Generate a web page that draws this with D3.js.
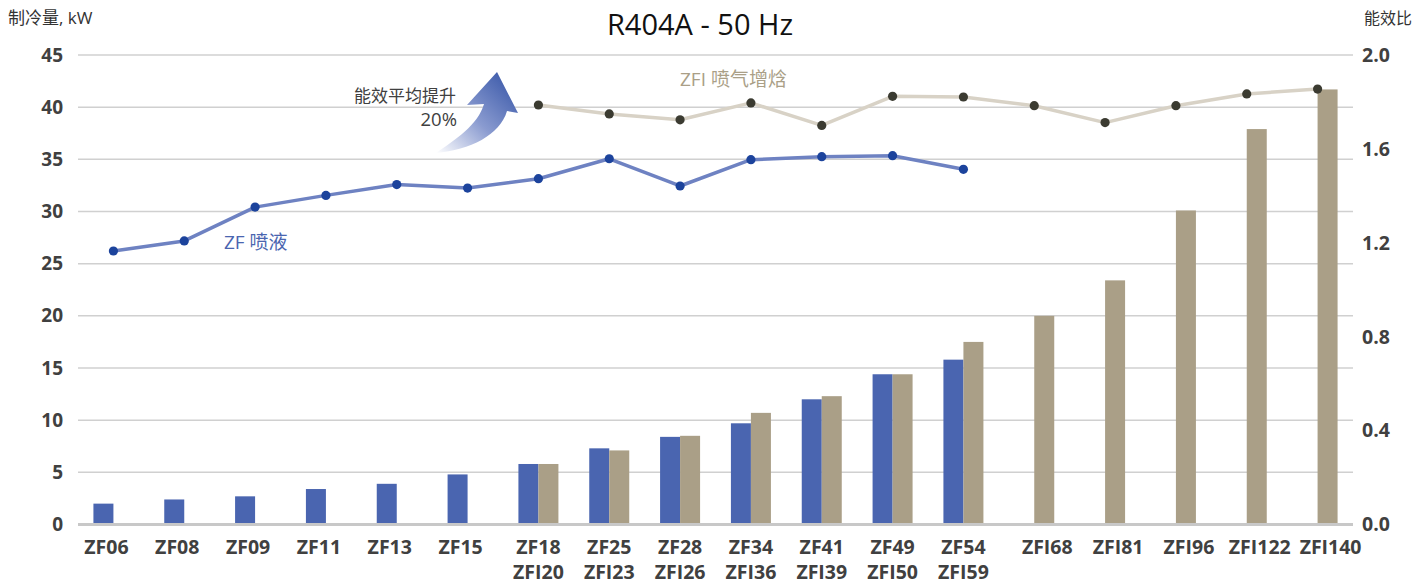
<!DOCTYPE html>
<html><head><meta charset="utf-8">
<script src="https://cdn.jsdelivr.net/npm/d3@7"></script>
<style>
html,body{margin:0;padding:0;background:#fff;}
svg text{font-family:"Open Sans","Noto Sans CJK SC",sans-serif;}
</style></head>
<body><svg id="c" width="1423" height="587"></svg>
<script>
const categories = [["ZF06"],["ZF08"],["ZF09"],["ZF11"],["ZF13"],["ZF15"],["ZF18","ZFI20"],["ZF25","ZFI23"],["ZF28","ZFI26"],["ZF34","ZFI36"],["ZF41","ZFI39"],["ZF49","ZFI50"],["ZF54","ZFI59"],["ZFI68"],["ZFI81"],["ZFI96"],["ZFI122"],["ZFI140"]];
const zfCapacity  = [2.0,2.4,2.7,3.4,3.9,4.8,5.8,7.3,8.4,9.7,12.0,14.4,15.8,null,null,null,null,null];
const zfiCapacity = [null,null,null,null,null,null,5.8,7.1,8.5,10.7,12.3,14.4,17.5,20.0,23.4,30.1,37.9,41.7];
const zfEER  = [1.165,1.208,1.352,1.402,1.448,1.433,1.473,1.558,1.442,1.554,1.567,1.571,1.513,null,null,null,null,null];
const zfiEER = [null,null,null,null,null,null,1.787,1.749,1.724,1.796,1.70,1.824,1.821,1.784,1.712,1.784,1.834,1.855];
const leftTicks = [0,5,10,15,20,25,30,35,40,45];
const rightTicks = [0,0.4,0.8,1.2,1.6,2.0];

const svg = d3.select("#c");
const x0 = 78, x1 = 1353, yTop = 55, yBot = 524.5;
const x = d3.scaleBand().domain(d3.range(categories.length)).range([x0,x1]).padding(0);
const yL = d3.scaleLinear().domain([0,45]).range([yBot,yTop]);
const yR = d3.scaleLinear().domain([0,2]).range([yBot,yTop]);
const cx = i => x(i) + x.bandwidth()/2;
const barW = 20;
// label centre: middle of the bars present in the category
const labelX = i => {
  const a = zfCapacity[i]!=null, b = zfiCapacity[i]!=null;
  if (a && b) return cx(i);
  if (a) return cx(i) - barW/2 + 3;
  return cx(i) + barW/2 + 3;
};

// grid
svg.append("g").selectAll("line").data(leftTicks.filter(d=>d>0)).join("line")
  .attr("x1",x0).attr("x2",x1).attr("y1",d=>yL(d)).attr("y2",d=>yL(d))
  .attr("stroke","#d0d0d0").attr("stroke-width",1.5);

// left tick labels
svg.append("g").selectAll("text").data(leftTicks).join("text")
  .attr("x",63).attr("y",d=>yL(d)).attr("dy","0.35em").attr("text-anchor","end")
  .attr("font-size",19).attr("font-weight","bold").attr("fill","#404040").text(d=>d);
// right tick labels
svg.append("g").selectAll("text").data(rightTicks).join("text")
  .attr("x",1362).attr("y",d=>yR(d)).attr("dy","0.35em").attr("text-anchor","start")
  .attr("font-size",19.5).attr("font-weight","bold").attr("fill","#404040").text(d=>d3.format(".1f")(d));

// bars
svg.append("g").selectAll("rect").data(zfCapacity.map((v,i)=>({v,i})).filter(d=>d.v!=null)).join("rect")
  .attr("x",d=>cx(d.i)-barW).attr("width",barW).attr("y",d=>yL(d.v)).attr("height",d=>yBot-yL(d.v))
  .attr("fill","#4a65b0");
svg.append("g").selectAll("rect").data(zfiCapacity.map((v,i)=>({v,i})).filter(d=>d.v!=null)).join("rect")
  .attr("x",d=>cx(d.i)).attr("width",barW).attr("y",d=>yL(d.v)).attr("height",d=>yBot-yL(d.v))
  .attr("fill","#aa9f87");

// zero axis line
svg.append("line").attr("x1",x0).attr("x2",x1).attr("y1",yBot).attr("y2",yBot)
  .attr("stroke","#c8c8c8").attr("stroke-width",3);

// lines
function drawLine(data, lineColor, dotColor){
  const pts = data.map((v,i)=>({v,i})).filter(d=>d.v!=null);
  svg.append("path").datum(pts)
    .attr("d", d3.line().x(d=>cx(d.i)).y(d=>yR(d.v)))
    .attr("fill","none").attr("stroke",lineColor).attr("stroke-width",3.5).attr("stroke-linejoin","round");
  svg.append("g").selectAll("circle").data(pts).join("circle")
    .attr("cx",d=>cx(d.i)).attr("cy",d=>yR(d.v)).attr("r",4.6).attr("fill",dotColor);
}
drawLine(zfiEER, "#d8d2c6", "#3b3b31");
drawLine(zfEER, "#6e82c2", "#1c439c");

// x labels
const xl = svg.append("g").selectAll("text").data(categories.map((c,i)=>({c,i}))).join("text")
  .attr("text-anchor","middle").attr("font-size",19.5).attr("font-weight","bold").attr("fill","#404040");
xl.each(function(d){
  const t = d3.select(this);
  d.c.forEach((s,k)=>{
    t.append("tspan").attr("x",labelX(d.i)).attr("y",547+k*25).attr("dy","0.35em").text(s);
  });
});

// titles
svg.append("text").attr("x",700).attr("y",25).attr("dy","0.35em").attr("text-anchor","middle")
  .attr("font-size",29).attr("fill","#111").text("R404A - 50 Hz");
svg.append("text").attr("x",8).attr("y",18).attr("dy","0.35em").attr("font-size",17).attr("fill","#333").text("制冷量, kW");
svg.append("text").attr("x",1412).attr("y",18).attr("dy","0.35em").attr("text-anchor","end").attr("font-size",16).attr("fill","#333").text("能效比");

// annotations
svg.append("text").attr("x",224).attr("y",242).attr("dy","0.35em").attr("font-size",19).attr("fill","#4a65b0").text("ZF 喷液");
svg.append("text").attr("x",680).attr("y",79).attr("dy","0.35em").attr("font-size",19).attr("fill","#aa9f87").text("ZFI 喷气增焓");
svg.append("text").attr("x",456).attr("y",96).attr("dy","0.35em").attr("text-anchor","end").attr("font-size",17).attr("fill","#404040").text("能效平均提升");
svg.append("text").attr("x",457).attr("y",119.5).attr("dy","0.35em").attr("text-anchor","end").attr("font-size",18.5).attr("fill","#404040").text("20%");

// curved arrow
const defs = svg.append("defs");
const g = defs.append("linearGradient").attr("id","ag").attr("x1","0").attr("y1","1").attr("x2","1").attr("y2","0");
g.append("stop").attr("offset","0").attr("stop-color","#ffffff");
g.append("stop").attr("offset","0.45").attr("stop-color","#8a9bd0");
g.append("stop").attr("offset","1").attr("stop-color","#2f4fa3");
svg.append("path")
  .attr("d","M436,153 C455,140 478,125 484,104 L467,105 L497,72 L518,113 L507,111 C500,135 470,150 436,153 Z")
  .attr("fill","url(#ag)");
</script></body></html>
